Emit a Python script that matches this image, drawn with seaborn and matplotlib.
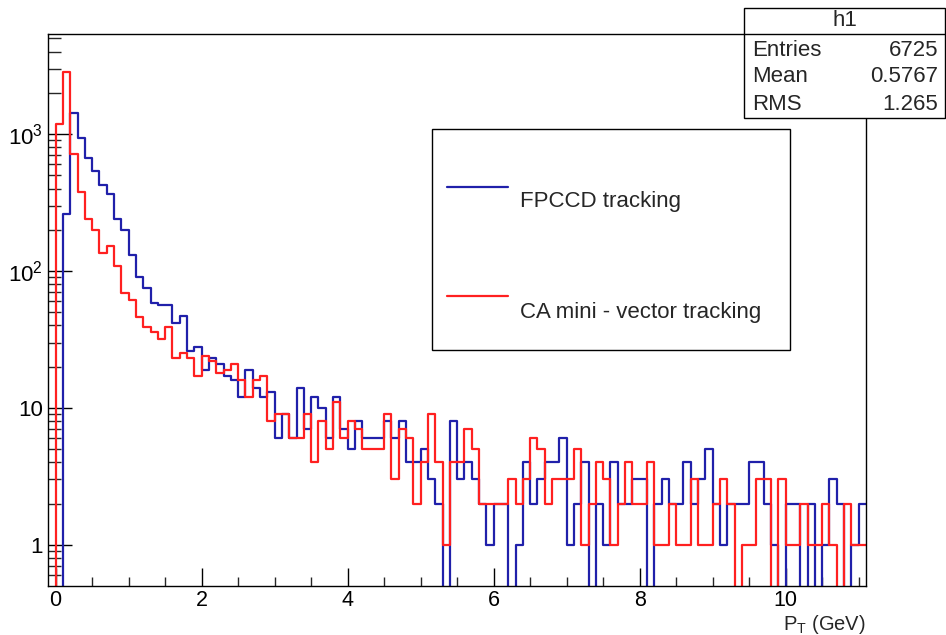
import numpy as np
import pandas as pd
import matplotlib
matplotlib.use("Agg")
import matplotlib.pyplot as plt
import seaborn as sns
from matplotlib.patches import Rectangle
from matplotlib.lines import Line2D
from matplotlib.ticker import FixedLocator, NullFormatter

# ---- data (bin width 0.1 GeV, first bin starts at -0.1) ----
bin_edges = [round(-0.1 + 0.1 * i, 2) for i in range(113)]

fpccd_counts = [0, 0, 262, 1416, 931, 671, 537, 422, 363, 238, 199, 131, 90, 75, 58, 56, 56, 42, 47, 26, 28,
                19, 23, 21, 17, 16, 12, 19, 14, 12, 13,
                6, 9, 6, 14, 7, 12, 10, 6, 12, 7,
                5, 8, 6, 6, 6, 8, 6, 8, 4, 4,
                5, 3, 2, 0, 8, 3, 4, 3, 2, 1,
                2, 2, 0, 1, 4, 2, 3, 4, 4, 6,
                1, 2, 4, 0, 2, 1, 4, 2, 2, 3,
                3, 0, 2, 3, 2, 2, 4, 2, 3, 5,
                2, 1, 2, 2, 2, 4, 4, 2, 1, 0,
                2, 2, 0, 2, 0, 1, 3, 2, 0, 1,
                2]

ca_counts = [0, 1190, 2840, 710, 380, 238, 199, 136, 152, 108, 69, 61, 46, 39, 36, 32, 39, 23, 25, 23, 17,
             24, 22, 18, 19, 21, 16, 12, 16, 17, 8,
             9, 9, 6, 6, 9, 4, 8, 5, 11, 6,
             8, 7, 5, 5, 5, 9, 3, 7, 6, 2,
             4, 9, 4, 1, 4, 4, 7, 5, 2, 2,
             2, 2, 3, 2, 3, 6, 5, 2, 3, 3,
             3, 5, 1, 2, 4, 3, 1, 2, 4, 2,
             2, 4, 1, 1, 2, 1, 1, 3, 1, 1,
             2, 3, 2, 0, 1, 1, 3, 3, 0, 3,
             1, 1, 2, 1, 1, 2, 1, 0, 2, 1,
             1]

series_names = ["FPCCD tracking", "CA mini - vector tracking"]
series_colors = ["#2020aa", "#ff2020"]
stats_rows = [("Entries", "6725"), ("Mean", "0.5767"), ("RMS", "1.265")]
x_major = [0, 2, 4, 6, 8, 10]
y_major = [1, 10, 100, 1000]
y_major_labels = ["1", "10", "10$^{2}$", "10$^{3}$"]

# ---- style ----
sns.set_theme(style="white")
plt.rcParams["font.family"] = ["Liberation Sans", "DejaVu Sans"]
plt.rcParams["mathtext.fontset"] = "custom"
plt.rcParams["mathtext.rm"] = "Liberation Sans"
plt.rcParams["mathtext.it"] = "Liberation Sans:italic"
plt.rcParams["mathtext.bf"] = "Liberation Sans:bold"

fig = plt.figure(figsize=(9.46, 6.35), dpi=100)
ax = fig.add_axes([48.3 / 946, 1 - 586 / 635, (866 - 48.3) / 946, (586 - 33.8) / 635])

edges = np.array(bin_edges)
centers = (edges[:-1] + edges[1:]) / 2
df = pd.DataFrame({
    "pt": np.concatenate([centers, centers]),
    "count": np.concatenate([fpccd_counts, ca_counts]).astype(float),
    "series": [series_names[0]] * len(centers) + [series_names[1]] * len(centers),
})

for name, col in zip(series_names, series_colors):
    sub = df[df["series"] == name].reset_index(drop=True)
    sns.histplot(data=sub, x="pt", weights="count", bins=list(bin_edges), element="step",
                 fill=False, color=col, linewidth=1.6, ax=ax)

ax.set_yscale("log")
ax.set_xlim(-0.1, 11.1)
ax.set_ylim(0.5, 5400)
ax.set_xlabel("")
ax.set_ylabel("")

# ticks
ax.xaxis.set_major_locator(FixedLocator(x_major))
ax.xaxis.set_minor_locator(FixedLocator([v * 0.5 for v in range(0, 23)]))
ax.set_xticklabels([str(v) for v in x_major])
ax.yaxis.set_major_locator(FixedLocator(y_major))
ax.set_yticklabels(y_major_labels)
minor_y = [0.6, 0.7, 0.8, 0.9] + [m * d for d in (1, 10, 100) for m in range(2, 10)] + [2000, 3000, 4000, 5000]
ax.yaxis.set_minor_locator(FixedLocator(minor_y))
ax.yaxis.set_minor_formatter(NullFormatter())

ax.tick_params(axis="x", which="major", direction="in", length=13, width=1.0, top=False,
               bottom=True, labelsize=15.5, pad=3, colors="black")
ax.tick_params(axis="x", which="minor", direction="in", length=6.5, width=1.0, top=False, bottom=True)
ax.tick_params(axis="y", which="major", direction="in", length=17, width=1.0, right=False,
               left=True, labelsize=16, pad=4, colors="black")
ax.tick_params(axis="y", which="minor", direction="in", length=9, width=1.0, right=False, left=True)
for s in ax.spines.values():
    s.set_color("black")
    s.set_linewidth(1.0)

ax.text(1.0, -(624 - 586) / 552.2, "P$_{\\rm T}$ (GeV)", transform=ax.transAxes, ha="right",
        va="center", fontsize=14.5)

# ---- legend box (figure pixel coords) ----
W, H = 946.0, 635.0
def fx(px):
    return px / W
def fy(py):
    return 1 - py / H

fig.add_artist(Rectangle((fx(432), fy(350)), fx(790) - fx(432), fy(129) - fy(350),
                         transform=fig.transFigure, fill=False, edgecolor="black", linewidth=1.0))
for (name, col, ly, ty) in [(series_names[0], series_colors[0], 187, 202),
                            (series_names[1], series_colors[1], 296, 313)]:
    fig.add_artist(Line2D([fx(447), fx(508)], [fy(ly), fy(ly)], transform=fig.transFigure,
                          color=col, linewidth=1.6))
    fig.text(fx(520), fy(ty), name, ha="left", va="center", fontsize=16)

# ---- stats box ----
fig.add_artist(Rectangle((fx(744), fy(118)), fx(945) - fx(744), fy(8) - fy(118),
                         transform=fig.transFigure, facecolor="white", edgecolor="black",
                         linewidth=1.0, zorder=5))
fig.add_artist(Line2D([fx(744), fx(945)], [fy(33.8), fy(33.8)], transform=fig.transFigure,
                      color="black", linewidth=1.0, zorder=6))
fig.text(fx(845), fy(20), "h1", ha="center", va="center", fontsize=16, zorder=7)
for i, (k, v) in enumerate(stats_rows):
    yy = fy(50 + 27 * i)
    fig.text(fx(752), yy, k, ha="left", va="center", fontsize=16, zorder=7)
    fig.text(fx(938), yy, v, ha="right", va="center", fontsize=16, zorder=7)

fig.savefig("out.png", dpi=100)
